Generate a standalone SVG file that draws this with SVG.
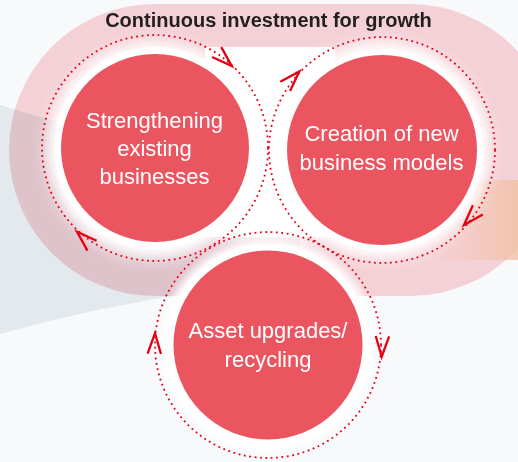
<svg xmlns="http://www.w3.org/2000/svg" xmlns:xlink="http://www.w3.org/1999/xlink" width="518" height="462" viewBox="0 0 518 462">
  <style>
    .node { fill: #ea5560; }
    .label { font-family: "Liberation Sans", Arial, sans-serif; font-size: 22px; fill: #ffffff; text-anchor: middle; }
    .title { font-family: "Liberation Sans", Arial, sans-serif; font-size: 20px; font-weight: bold; fill: #231f20; text-anchor: middle; }
    .ring { fill: none; stroke: #e50012; stroke-width: 1.8; stroke-dasharray: 1.8 3.6; }
    .chev { fill: none; stroke: #e50012; stroke-width: 2.3; stroke-linecap: butt; stroke-linejoin: miter; }
    .halo { fill: #ffffff; }
  </style>
  <defs>
    <filter id="soft" x="-20%" y="-20%" width="140%" height="140%">
      <feGaussianBlur stdDeviation="7"/>
    </filter>
    <filter id="soft2" x="-20%" y="-20%" width="140%" height="140%">
      <feGaussianBlur stdDeviation="4"/>
    </filter>
    <linearGradient id="peach" x1="430" y1="0" x2="518" y2="0" gradientUnits="userSpaceOnUse">
      <stop offset="0" stop-color="#f4c4ab" stop-opacity="0"/>
      <stop offset="1" stop-color="#f2bfa3" stop-opacity="0.8"/>
    </linearGradient>
    <path id="chev" class="chev" d="M-20.5,-6.7 L0,0 L-20.5,6.7"/>
  </defs>

  <!-- background -->
  <rect x="0" y="0" width="518" height="462" fill="#f8f9fb"/>
  <path d="M0,105 L300,195 L300,285 L200,292 Q100,306 0,334 Z" fill="#e3e9ed"/>

  <!-- pink stadium band -->
  <path d="M155,4 H410 A146,146 0 0 1 410,296 H155 A146,146 0 0 1 155,4 Z" fill="#fbd6db" style="mix-blend-mode:multiply"/>
  <rect x="430" y="180" width="88" height="80" fill="url(#peach)"/>

  <!-- inner white region -->
  <g filter="url(#soft)">
    <circle cx="155" cy="150" r="108" class="halo"/>
    <circle cx="382" cy="150" r="108" class="halo"/>
    <rect x="180" y="60" width="180" height="180" class="halo"/>
  </g>
  <rect x="205" y="47" width="130" height="190" class="halo"/>
  <g filter="url(#soft2)">
    <circle cx="268" cy="345" r="106" class="halo"/>
  </g>
  <circle cx="155" cy="148" r="101" class="halo"/>
  <circle cx="382" cy="150" r="101" class="halo"/>
  <circle cx="268" cy="345" r="101" class="halo"/>

  <!-- title -->
  <g id="title">
    <text class="title" x="268.5" y="27">Continuous investment for growth</text>
  </g>

  <!-- connectors: dotted cycle rings and arrowheads -->
  <g id="connectors">
    <circle class="ring" cx="155" cy="148" r="113"/>
    <circle class="ring" cx="382" cy="150" r="113"/>
    <circle class="ring" cx="268" cy="345" r="113"/>
    <use xlink:href="#chev" transform="translate(231.7,66) rotate(43)"/>
    <use xlink:href="#chev" transform="translate(299.3,71.5) rotate(-46.5)"/>
    <use xlink:href="#chev" transform="translate(464,225) rotate(132.4)"/>
    <use xlink:href="#chev" transform="translate(77,231.7) rotate(-137)"/>
    <use xlink:href="#chev" transform="translate(381.7,356.7) rotate(92)"/>
    <use xlink:href="#chev" transform="translate(155,333.3) rotate(-88)"/>
  </g>

  <!-- nodes -->
  <g id="node-strengthening">
    <circle class="node" cx="155" cy="148" r="94"/>
    <text class="label" x="154.5" y="128">Strengthening</text>
    <text class="label" x="154.5" y="156">existing</text>
    <text class="label" x="154.5" y="184">businesses</text>
  </g>
  <g id="node-creation">
    <circle class="node" cx="382" cy="150" r="95"/>
    <text class="label" x="381.5" y="141">Creation of new</text>
    <text class="label" x="381.5" y="170">business models</text>
  </g>
  <g id="node-asset">
    <circle class="node" cx="268" cy="345" r="94.5"/>
    <text class="label" x="268" y="338">Asset upgrades/</text>
    <text class="label" x="268" y="367">recycling</text>
  </g>
</svg>
